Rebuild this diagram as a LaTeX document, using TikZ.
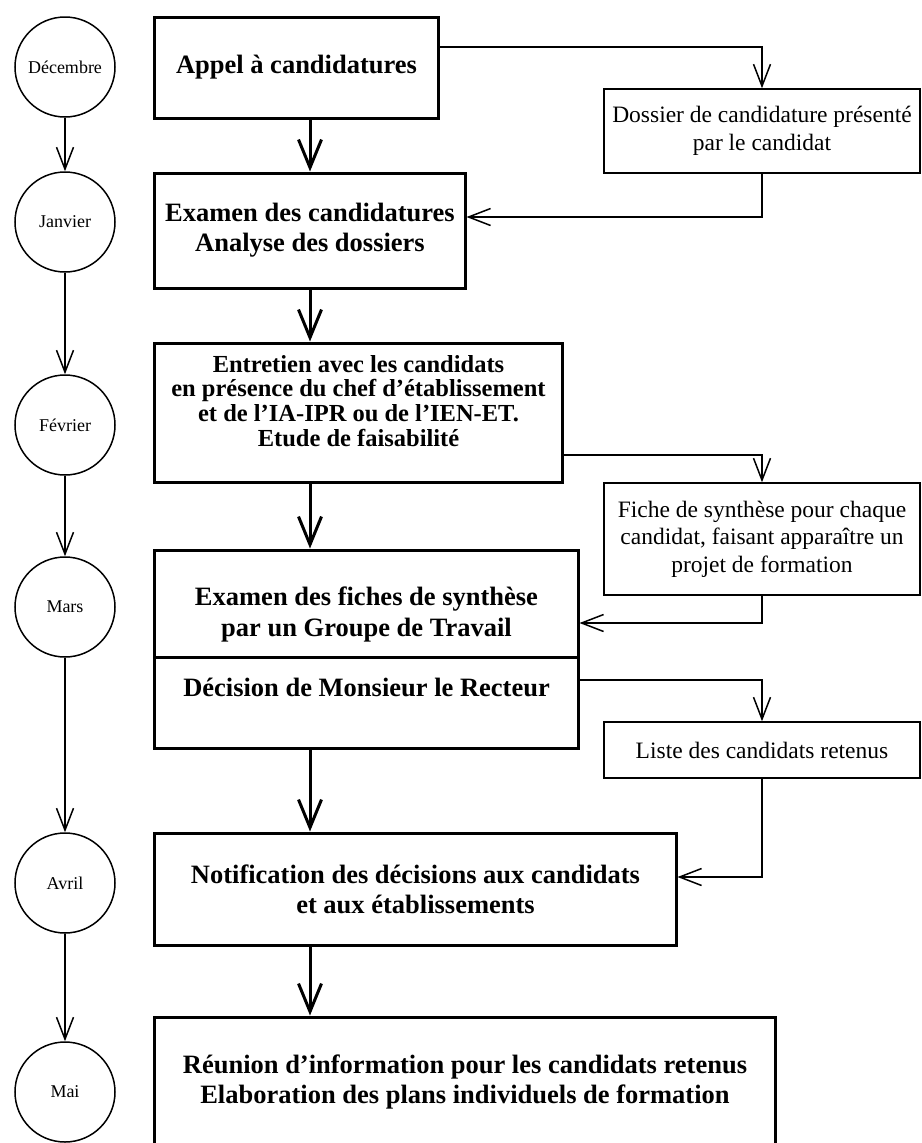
\documentclass[tikz,border=0pt]{standalone}
\usepackage{fontspec}
\setmainfont{Liberation Serif}
\usetikzlibrary{arrows.meta}

\begin{document}
\begin{tikzpicture}[x=1bp, y=-1bp,
    mainbox/.style={draw, line width=3bp, align=center, inner sep=0pt,
        font=\bfseries\fontsize{26.5bp}{30bp}\selectfont},
    maintext/.style={align=center, inner sep=0pt,
        font=\bfseries\fontsize{26.5bp}{31bp}\selectfont},
    sidebox/.style={draw, line width=1.5bp, align=center, inner sep=0pt,
        minimum width=316bp, font=\fontsize{23.5bp}{27.5bp}\selectfont},
    month/.style={draw, circle, line width=1.5bp, minimum size=100bp, inner sep=0pt,
        font=\fontsize{18bp}{20bp}\selectfont},
    flow/.style={line width=3bp, -{Straight Barb[length=28bp, width=23bp]}},
    link/.style={line width=1.5bp, -{Straight Barb[length=22bp, width=17bp]}}]
        \useasboundingbox (0,0) rectangle (922,1143);
        \coordinate (spine) at (310,0);

        \node[month] (dec) at (65,67) {Décembre};
        \node[month] (jan) at (65,222) {Janvier};
        \node[month] (fev) at (65,425) {Février};
        \node[month] (mars) at (65,607) {Mars};
        \node[month] (avr) at (65,883) {Avril};
        \node[month] (mai) at (65,1092) {Mai};
        \draw[link] (dec) -- (jan);
        \draw[link] (jan) -- (fev);
        \draw[link] (fev) -- (mars);
        \draw[link] (mars) -- (avr);
        \draw[link] (avr) -- (mai);

        \node[mainbox, minimum width=283bp, minimum height=101bp] (appel) at (296.5,67.5)
            {Appel à candidatures};
        \node[mainbox, minimum width=310bp, minimum height=115bp] (examen) at (310,230.5)
            {Examen des candidatures\\Analyse des dossiers};
        \node[mainbox, minimum width=407bp, minimum height=139bp] (entretien) at (358.5,412.5) {};
        \node[maintext, font=\bfseries\fontsize{24.5bp}{24.5bp}\selectfont] (entretientxt) at (358.5,401)
            {Entretien avec les candidats\\en présence du chef d’établissement\\et de l’IA-IPR ou de l’IEN-ET.\\[1bp]Etude de faisabilité};
        \node[mainbox, minimum width=423bp, minimum height=107bp] (fiches) at (366.5,603.5) {};
        \node[maintext] (fichestxt) at (366.5,614)
            {Examen des fiches de synthèse\\par un Groupe de Travail};
        \node[mainbox, minimum width=423bp, minimum height=91bp, text depth=31bp] (decision) at (366.5,702.5)
            {Décision de Monsieur le Recteur};
        \node[mainbox, minimum width=521bp, minimum height=112bp] (notif) at (415.5,889)
            {Notification des décisions aux candidats\\et aux établissements};
        \node[mainbox, minimum width=620bp, minimum height=130bp] (reunion) at (465,1082)
            {Réunion d’information pour les candidats retenus\\Elaboration des plans individuels de formation};

        \draw[flow] (appel.south -| spine) -- (examen.north -| spine);
        \draw[flow] (examen.south -| spine) -- (entretien.north -| spine);
        \draw[flow] (entretien.south -| spine) -- (fiches.north -| spine);
        \draw[flow] (decision.south -| spine) -- (notif.north -| spine);
        \draw[flow] (notif.south -| spine) -- (reunion.north -| spine);

        \node[sidebox, minimum height=84bp] (dossier) at (762,131)
            {Dossier de candidature présenté\\par le candidat};
        \node[sidebox, minimum height=112bp] (fiche) at (762,539)
            {Fiche de synthèse pour chaque\\candidat, faisant apparaître un\\projet de formation};
        \node[sidebox, minimum height=56bp] (liste) at (762,750)
            {Liste des candidats retenus};

        \draw[link] ([yshift=20.5bp]appel.east) -| (dossier.north);
        \draw[link] (dossier.south) |- ([yshift=13.5bp]examen.east);
        \draw[link] ([yshift=-42.5bp]entretien.east) -| (fiche.north);
        \draw[link] (fiche.south) |- ([yshift=-19.5bp]fiches.east);
        \draw[link] ([yshift=22.5bp]decision.east) -| (liste.north);
        \draw[link] (liste.south) |- ([yshift=12bp]notif.east);
    \end{tikzpicture}
\end{document}
